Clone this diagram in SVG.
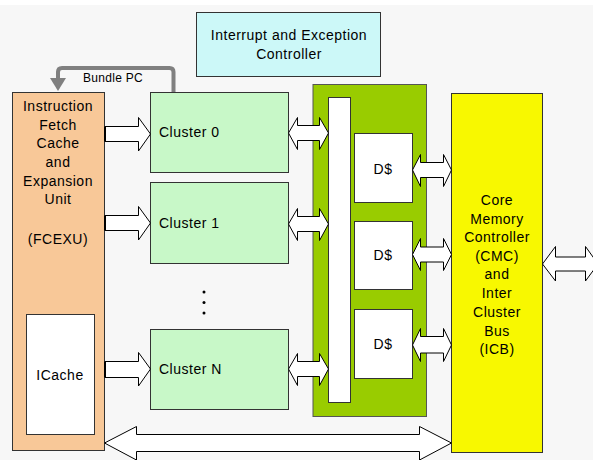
<svg xmlns="http://www.w3.org/2000/svg" width="593" height="460" viewBox="0 0 593 460">
<style>
text{font-family:"Liberation Sans",Arial,sans-serif;font-size:14px;letter-spacing:0.5px;fill:#000}
.box{stroke:#333;stroke-width:1}
.arr{fill:#fff;stroke:#000;stroke-width:1;stroke-linejoin:miter}
.c{text-anchor:middle}
</style>
<rect x="0" y="0" width="593" height="460" fill="#fff"/>
<rect x="0" y="5" width="593" height="455" fill="#f7f7f7"/>

<g id="interrupt">
<rect class="box" x="196.5" y="12.5" width="184" height="64" fill="#ccf8f8"/>
<text class="c" x="289" y="40">Interrupt and Exception</text>
<text class="c" x="289" y="59">Controller</text>
</g>

<g id="fcexu">
<rect class="box" x="12.5" y="92.5" width="92" height="358" fill="#f8c898"/>
<text class="c" x="58" y="111">Instruction</text>
<text class="c" x="58" y="130">Fetch</text>
<text class="c" x="58" y="148">Cache</text>
<text class="c" x="58" y="167">and</text>
<text class="c" x="58" y="186">Expansion</text>
<text class="c" x="58" y="204">Unit</text>
<text class="c" x="58" y="244">(FCEXU)</text>
</g>

<g id="icache">
<rect class="box" x="26.5" y="314.5" width="68" height="120" fill="#fff"/>
<text class="c" x="60" y="380">ICache</text>
</g>

<g id="cluster0">
<rect class="box" x="150.5" y="92.5" width="138" height="80" fill="#c8f8c8"/>
<text x="159" y="137">Cluster 0</text>
</g>
<g id="cluster1">
<rect class="box" x="150.5" y="182.5" width="138" height="81" fill="#c8f8c8"/>
<text x="159" y="228">Cluster 1</text>
</g>
<g id="clusterN">
<rect class="box" x="150.5" y="329.5" width="138" height="80" fill="#c8f8c8"/>
<text x="159" y="374">Cluster N</text>
</g>
<g id="dots" fill="#000">
<circle cx="204" cy="292" r="1.5"/>
<circle cx="204" cy="302.5" r="1.5"/>
<circle cx="204" cy="313" r="1.5"/>
</g>

<g id="dcache-panel">
<rect x="313" y="84.5" width="113.5" height="332" fill="#99cc00" stroke="#555" stroke-width="1"/>
<rect class="box" x="328.5" y="97.5" width="22" height="305" fill="#fff"/>
</g>
<g id="dcache1">
<rect class="box" x="354.5" y="133.5" width="58" height="69" fill="#fff"/>
<text class="c" x="383" y="174">D$</text>
</g>
<g id="dcache2">
<rect class="box" x="354.5" y="221.5" width="58" height="68" fill="#fff"/>
<text class="c" x="383" y="260">D$</text>
</g>
<g id="dcache3">
<rect class="box" x="354.5" y="309.5" width="58" height="69" fill="#fff"/>
<text class="c" x="383" y="349">D$</text>
</g>

<g id="cmc">
<rect class="box" x="451.5" y="93.5" width="91" height="359" fill="#f8f800"/>
<text class="c" x="497" y="205">Core</text>
<text class="c" x="497" y="224">Memory</text>
<text class="c" x="497" y="242">Controller</text>
<text class="c" x="497" y="261">(CMC)</text>
<text class="c" x="497" y="279">and</text>
<text class="c" x="497" y="298">Inter</text>
<text class="c" x="497" y="317">Cluster</text>
<text class="c" x="497" y="336">Bus</text>
<text class="c" x="497" y="354">(ICB)</text>
</g>

<g id="connectors">
<!-- Bundle PC feedback -->
<path d="M173.5,92 V72 Q173.5,68 169.5,68 H62 Q58,68 58,72 V79" fill="none" stroke="#808080" stroke-width="4"/>
<polygon points="50,78 66,78 58,91" fill="#808080"/>
<text x="83" y="82" style="font-size:12px;letter-spacing:0.3px">Bundle PC</text>

<!-- FCEXU to clusters -->
<path class="arr" d="M104.5,126.5 H138.5 V117.5 L150.5,134 L138.5,151 V141.5 H104.5"/>
<line x1="105" y1="126.5" x2="105" y2="141.5" stroke="#000" stroke-width="2"/>
<path class="arr" d="M104.5,215.5 H138.5 V206.5 L150.5,223 L138.5,240 V230.5 H104.5"/>
<line x1="105" y1="215.5" x2="105" y2="230.5" stroke="#000" stroke-width="2"/>
<path class="arr" d="M104.5,361.5 H138.5 V352.5 L150.5,369 L138.5,386 V377.5 H104.5"/>
<line x1="105" y1="361.5" x2="105" y2="377.5" stroke="#000" stroke-width="2"/>

<!-- clusters to bar -->
<path class="arr" d="M288.5,133 L297.5,117.5 V125.5 H319.5 V117.5 L328.5,133 L319.5,149.5 V140.5 H297.5 V149.5 Z"/>
<path class="arr" d="M288.5,224 L297.5,208.5 V216.5 H319.5 V208.5 L328.5,224 L319.5,240.5 V231.5 H297.5 V240.5 Z"/>
<path class="arr" d="M288.5,369 L297.5,353.5 V361.5 H319.5 V353.5 L328.5,369 L319.5,385.5 V376.5 H297.5 V385.5 Z"/>

<!-- D$ to CMC -->
<path class="arr" d="M412.5,170 L420.5,154.5 V162.5 H443.5 V154.5 L451.5,170 L443.5,186.5 V177.5 H420.5 V186.5 Z"/>
<path class="arr" d="M412.5,254.5 L420.5,238.5 V247 H443.5 V238.5 L451.5,254.5 L443.5,270.5 V262 H420.5 V270.5 Z"/>
<path class="arr" d="M412.5,345 L420.5,328.5 V336.5 H443.5 V328.5 L451.5,345 L443.5,361.5 V353 H420.5 V361.5 Z"/>

<!-- CMC external -->
<path class="arr" d="M542.5,264 L555.5,246.5 V257 H585.5 V246.5 L598,264 L585.5,281 V271 H555.5 V281 Z"/>

<!-- bottom bus -->
<path class="arr" d="M104.5,443 L136.5,426.5 V434.5 H419.5 V426.5 L451.5,443 L419.5,460 V451.5 H136.5 V460 Z"/>
</g>
</svg>
